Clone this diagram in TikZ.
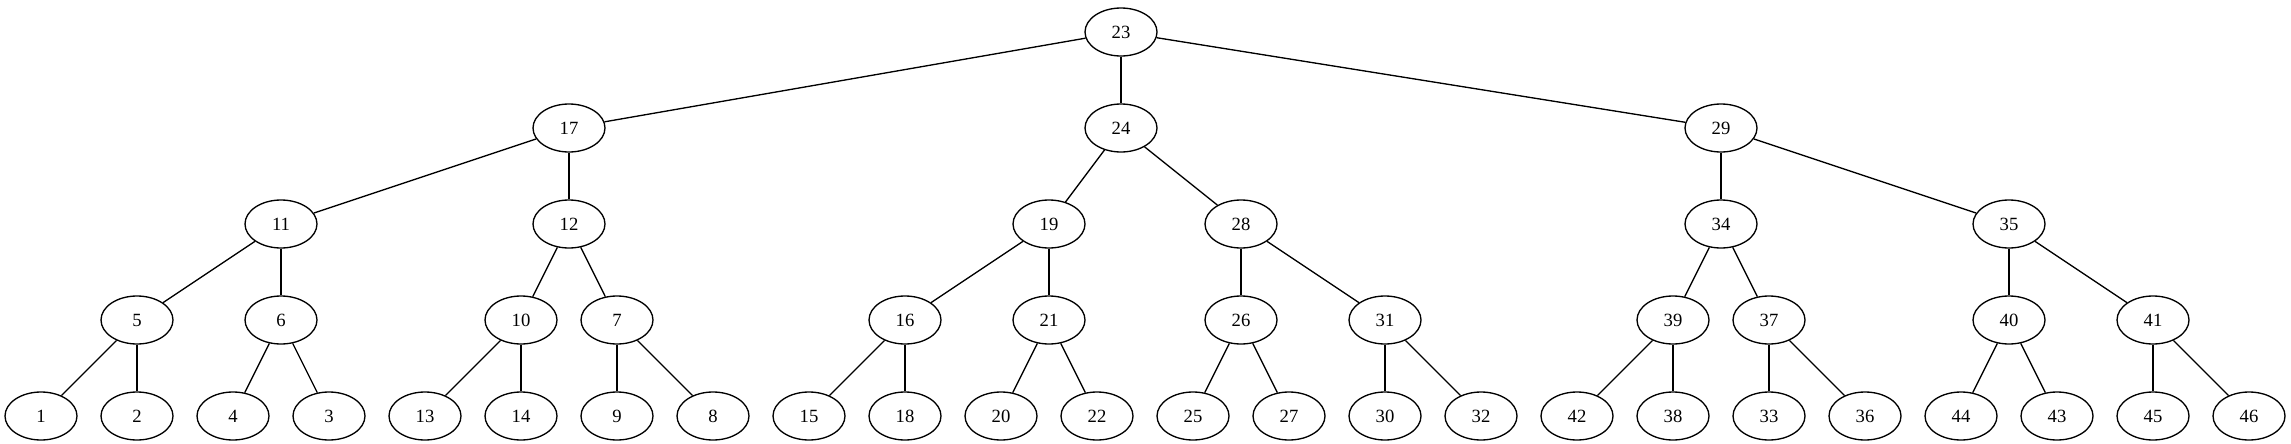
\documentclass[tikz,border=0pt]{standalone}
\usepackage{fontspec}
\setmainfont{Liberation Serif}
\usepackage{tikz}
\usetikzlibrary{shapes.geometric}

\tikzset{
    key/.style={draw, ellipse, line width=1pt, minimum width=54pt, minimum height=36pt,
        inner sep=0pt, font=\fontsize{14pt}{16pt}\selectfont},
    branch/.style={line width=1pt}
}

\begin{document}
\begin{tikzpicture}[x=0.75pt, y=-0.75pt]
        \useasboundingbox (0, 0) rectangle (2291, 443);

        % Root
        \node[key] (n23) at (1121, 32) {23};

        % Level 1
        \node[key] (n17) at (569, 128) {17};
        \node[key] (n24) at (1121, 128) {24};
        \node[key] (n29) at (1721, 128) {29};

        % Level 2
        \node[key] (n11) at (281, 224) {11};
        \node[key] (n12) at (569, 224) {12};
        \node[key] (n19) at (1049, 224) {19};
        \node[key] (n28) at (1241, 224) {28};
        \node[key] (n34) at (1721, 224) {34};
        \node[key] (n35) at (2009, 224) {35};

        % Level 3
        \node[key] (n5) at (137, 320) {5};
        \node[key] (n6) at (281, 320) {6};
        \node[key] (n10) at (521, 320) {10};
        \node[key] (n7) at (617, 320) {7};
        \node[key] (n16) at (905, 320) {16};
        \node[key] (n21) at (1049, 320) {21};
        \node[key] (n26) at (1241, 320) {26};
        \node[key] (n31) at (1385, 320) {31};
        \node[key] (n39) at (1673, 320) {39};
        \node[key] (n37) at (1769, 320) {37};
        \node[key] (n40) at (2009, 320) {40};
        \node[key] (n41) at (2153, 320) {41};

        % Leaves
        \node[key] (n1) at (41, 416) {1};
        \node[key] (n2) at (137, 416) {2};
        \node[key] (n4) at (233, 416) {4};
        \node[key] (n3) at (329, 416) {3};
        \node[key] (n13) at (425, 416) {13};
        \node[key] (n14) at (521, 416) {14};
        \node[key] (n9) at (617, 416) {9};
        \node[key] (n8) at (713, 416) {8};
        \node[key] (n15) at (809, 416) {15};
        \node[key] (n18) at (905, 416) {18};
        \node[key] (n20) at (1001, 416) {20};
        \node[key] (n22) at (1097, 416) {22};
        \node[key] (n25) at (1193, 416) {25};
        \node[key] (n27) at (1289, 416) {27};
        \node[key] (n30) at (1385, 416) {30};
        \node[key] (n32) at (1481, 416) {32};
        \node[key] (n42) at (1577, 416) {42};
        \node[key] (n38) at (1673, 416) {38};
        \node[key] (n33) at (1769, 416) {33};
        \node[key] (n36) at (1865, 416) {36};
        \node[key] (n44) at (1961, 416) {44};
        \node[key] (n43) at (2057, 416) {43};
        \node[key] (n45) at (2153, 416) {45};
        \node[key] (n46) at (2249, 416) {46};

        % Edges from the root down
        \draw[branch] (n23) -- (n17);
        \draw[branch] (n23) -- (n24);
        \draw[branch] (n23) -- (n29);
        \draw[branch] (n17) -- (n11);
        \draw[branch] (n17) -- (n12);
        \draw[branch] (n24) -- (n19);
        \draw[branch] (n24) -- (n28);
        \draw[branch] (n29) -- (n34);
        \draw[branch] (n29) -- (n35);
        \draw[branch] (n11) -- (n5);
        \draw[branch] (n11) -- (n6);
        \draw[branch] (n12) -- (n10);
        \draw[branch] (n12) -- (n7);
        \draw[branch] (n19) -- (n16);
        \draw[branch] (n19) -- (n21);
        \draw[branch] (n28) -- (n26);
        \draw[branch] (n28) -- (n31);
        \draw[branch] (n34) -- (n39);
        \draw[branch] (n34) -- (n37);
        \draw[branch] (n35) -- (n40);
        \draw[branch] (n35) -- (n41);

        % Edges to the leaves
        \draw[branch] (n5) -- (n1);
        \draw[branch] (n5) -- (n2);
        \draw[branch] (n6) -- (n4);
        \draw[branch] (n6) -- (n3);
        \draw[branch] (n10) -- (n13);
        \draw[branch] (n10) -- (n14);
        \draw[branch] (n7) -- (n9);
        \draw[branch] (n7) -- (n8);
        \draw[branch] (n16) -- (n15);
        \draw[branch] (n16) -- (n18);
        \draw[branch] (n21) -- (n20);
        \draw[branch] (n21) -- (n22);
        \draw[branch] (n26) -- (n25);
        \draw[branch] (n26) -- (n27);
        \draw[branch] (n31) -- (n30);
        \draw[branch] (n31) -- (n32);
        \draw[branch] (n39) -- (n42);
        \draw[branch] (n39) -- (n38);
        \draw[branch] (n37) -- (n33);
        \draw[branch] (n37) -- (n36);
        \draw[branch] (n40) -- (n44);
        \draw[branch] (n40) -- (n43);
        \draw[branch] (n41) -- (n45);
        \draw[branch] (n41) -- (n46);
    \end{tikzpicture}
\end{document}
